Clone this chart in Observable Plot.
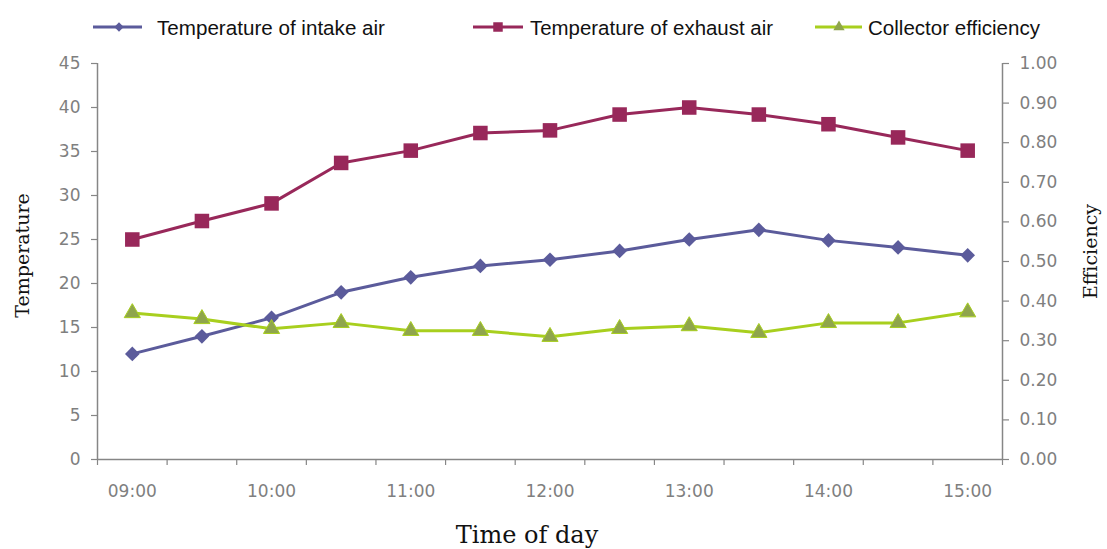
<!DOCTYPE html>
<html>
<head>
<meta charset="utf-8">
<script src="https://cdn.jsdelivr.net/npm/d3@7"></script>
<script src="https://cdn.jsdelivr.net/npm/@observablehq/plot@0.6"></script>
<style>
  html, body { margin: 0; padding: 0; background: #fff; }
  #chart { position: relative; width: 1107px; height: 549px; overflow: hidden; }
  #chart svg { display: block; }
</style>
</head>
<body>
<div id="chart"></div>
<script>
// ---- data ----
const times = ["09:00","09:30","10:00","10:30","11:00","11:30","12:00","12:30","13:00","13:30","14:00","14:30","15:00"];
const intakeTemp = [12, 14, 16.1, 19, 20.7, 22, 22.7, 23.7, 25, 26.1, 24.9, 24.1, 23.2];
const exhaustTemp = [25, 27.1, 29.1, 33.7, 35.1, 37.1, 37.4, 39.2, 40, 39.2, 38.1, 36.6, 35.1];
const efficiency = [0.37, 0.355, 0.33, 0.345, 0.325, 0.325, 0.31, 0.33, 0.337, 0.32, 0.345, 0.345, 0.372];
const tempTicks = [0, 5, 10, 15, 20, 25, 30, 35, 40, 45];
const effTicks = [0, 0.1, 0.2, 0.3, 0.4, 0.5, 0.6, 0.7, 0.8, 0.9, 1.0];
const seriesNames = ["Temperature of intake air", "Temperature of exhaust air", "Collector efficiency"];

// ---- styles ----
const colors = {intake: "#5b5b9b", exhaust: "#98285a", effLine: "#a8cf1e", effMark: "#8fa54c"};
const axisColor = "#868686";
const labelColor = "#7f7f7f";

const tempMax = 45, effMax = 1.0;
const toTemp = e => e / effMax * tempMax;

const rows = times.map((t, i) => ({i, t, intake: intakeTemp[i], exhaust: exhaustTemp[i], eff: efficiency[i]}));
const boundaries = d3.range(-0.5, times.length, 1);
const labelIdx = d3.range(0, times.length, 2);

const tickFont = {fontFamily: "DejaVu Sans", fontSize: 17, fill: labelColor, stroke: axisColor};

const plot = Plot.plot({
  width: 1107,
  height: 549,
  marginLeft: 97,
  marginRight: 105,
  marginTop: 63,
  marginBottom: 90,
  x: {type: "linear", domain: [-0.5, times.length - 0.5]},
  y: {domain: [0, tempMax]},
  style: {background: "#fff", overflow: "visible"},
  marks: [
    Plot.axisY({ticks: tempTicks, tickSize: 6, tickPadding: 11, label: null, ...tickFont, strokeWidth: 1.2}),
    Plot.axisY({anchor: "right", ticks: effTicks.map(toTemp), tickFormat: v => (v / tempMax * effMax).toFixed(2),
                tickSize: 6, tickPadding: 11, label: null, ...tickFont, strokeWidth: 1.2}),
    Plot.axisX({ticks: boundaries, tickSize: 6, tickFormat: () => "", label: null, stroke: axisColor, strokeWidth: 1.2}),
    Plot.axisX({ticks: labelIdx, tickSize: 0, tickPadding: 25, tickFormat: i => times[i], label: null, ...tickFont}),
    Plot.ruleY([0], {stroke: axisColor, strokeWidth: 1.5}),
    Plot.ruleX([-0.5, times.length - 0.5], {stroke: axisColor, strokeWidth: 1.5}),

    Plot.line(rows, {x: "i", y: "exhaust", stroke: colors.exhaust, strokeWidth: 3}),
    Plot.line(rows, {x: "i", y: "intake", stroke: colors.intake, strokeWidth: 3}),
    Plot.line(rows, {x: "i", y: d => toTemp(d.eff), stroke: colors.effLine, strokeWidth: 3}),
    Plot.dot(rows, {x: "i", y: "exhaust", symbol: "square", r: 8.2, fill: colors.exhaust}),
    Plot.dot(rows, {x: "i", y: "intake", symbol: "diamond2", r: 6.6, fill: colors.intake}),
    Plot.dot(rows, {x: "i", y: d => toTemp(d.eff), symbol: "triangle", r: 6, fill: colors.effMark, stroke: colors.effLine, strokeWidth: 1}),

    Plot.text(["Temperature"], {frameAnchor: "left", dx: -75, dy: -6, rotate: -90, fontFamily: "DejaVu Serif", fontSize: 19, fill: "#111", textAnchor: "middle", lineAnchor: "middle"}),
    Plot.text(["Efficiency"], {frameAnchor: "right", dx: 88, dy: -10, rotate: -90, fontFamily: "DejaVu Serif", fontSize: 19, fill: "#111", textAnchor: "middle", lineAnchor: "middle"}),
    Plot.text(["Time of day"], {frameAnchor: "bottom", dx: -23, dy: 76, fontFamily: "DejaVu Serif", fontSize: 24, fill: "#111", textAnchor: "middle", lineAnchor: "middle"})
  ]
});

const chart = document.getElementById("chart");
chart.appendChild(plot);

// ---- legend (above the plot area) ----
const legendLayout = [
  {x1: 93, x2: 142, sx: 119, tx: 157, tl: 228},
  {x1: 473, x2: 523, sx: 498, tx: 530, tl: 243},
  {x1: 815, x2: 862, sx: 839, tx: 868, tl: 172}
];
const legendSeries = [
  {name: seriesNames[0], line: colors.intake, fill: colors.intake, sym: d3.symbolDiamond2, size: 55},
  {name: seriesNames[1], line: colors.exhaust, fill: colors.exhaust, sym: d3.symbolSquare, size: 90},
  {name: seriesNames[2], line: colors.effLine, fill: colors.effMark, sym: d3.symbolTriangle, size: 55}
];
const leg = d3.select(chart).append("svg")
  .attr("width", 1107).attr("height", 50)
  .style("position", "absolute").style("left", "0px").style("top", "0px");
legendSeries.forEach((s, k) => {
  const L = legendLayout[k];
  const g = leg.append("g");
  g.append("line").attr("x1", L.x1).attr("x2", L.x2).attr("y1", 27).attr("y2", 27)
    .attr("stroke", s.line).attr("stroke-width", 3);
  g.append("path").attr("d", d3.symbol(s.sym, s.size)()).attr("transform", `translate(${L.sx},27)`)
    .attr("fill", s.fill);
  g.append("text").attr("x", L.tx).attr("y", 35).text(s.name)
    .attr("font-family", "Liberation Sans, Arial, sans-serif").attr("font-size", 20.5)
    .attr("fill", "#111").attr("textLength", L.tl).attr("lengthAdjust", "spacingAndGlyphs");
});
</script>
</body>
</html>
